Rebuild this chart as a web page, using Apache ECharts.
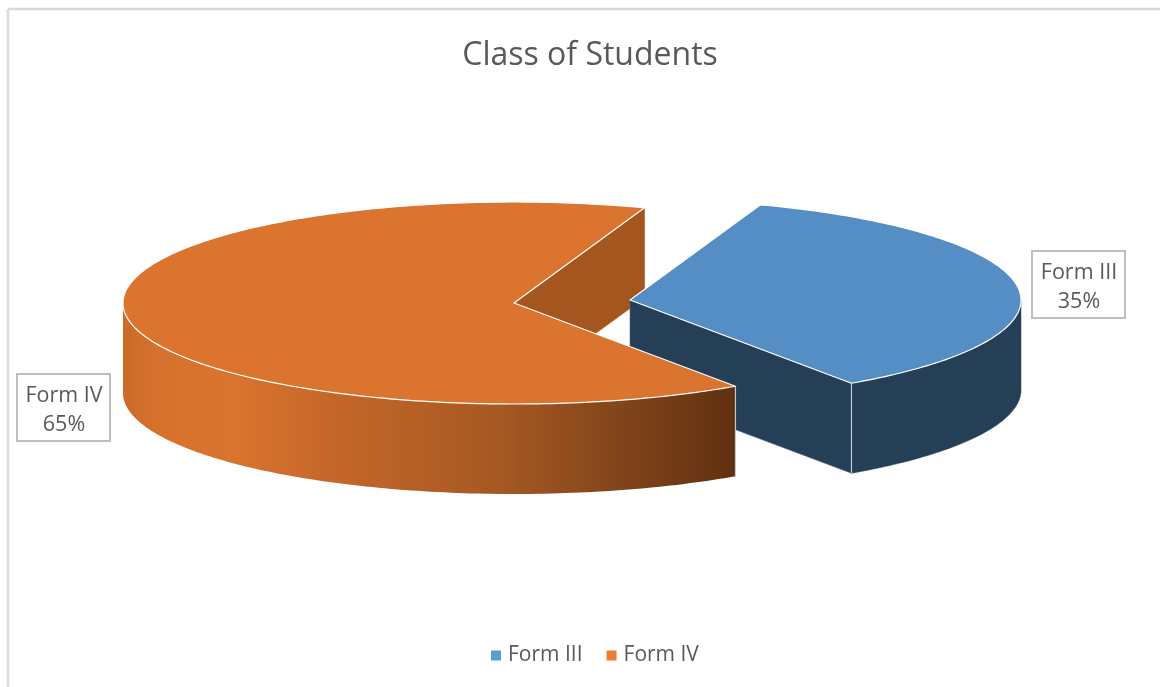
<!DOCTYPE html>
<html>
<head>
<meta charset="utf-8">
<style>
  html, body { margin: 0; padding: 0; background: #fff; }
  #chart { width: 1160px; height: 687px; }
</style>
<script src="https://cdn.jsdelivr.net/npm/echarts@6/dist/echarts.min.js"></script>
</head>
<body>
<div id="chart"></div>
<script>
// Chart content
const chartTitle = 'Class of Students';
const categories = ['Form III', 'Form IV'];
const shares = [35, 65];
const legendColors = ['#5B9BD5', '#ED7D31'];
const topColors = ['#548EC4', '#DA742E'];
const wallColors = ['#243F56', '#A5561F'];

// Drawing set-up for the tilted pie
const FONT = '"Open Sans", sans-serif';
const TEXT = '#595959';
const RX = 391, RY = 101, DEPTH = 90;
const FIRST_ANGLE = 19.5;
const centers = [[630, 300], [514, 303]];
const labelBoxes = [[1032, 251, 93, 67], [17, 374, 93, 67]];
const frontShade = {
  type: 'linear', x: 123, y: 0, x2: 738, y2: 0, global: true,
  colorStops: [
    { offset: 0, color: '#CB6A29' },
    { offset: 0.06, color: '#D6722D' },
    { offset: 0.18, color: '#DA742E' },
    { offset: 0.32, color: '#C7682A' },
    { offset: 0.62, color: '#A55822' },
    { offset: 0.82, color: '#7F431A' },
    { offset: 1, color: '#603010' }
  ]
};

const total = shares.reduce((a, b) => a + b, 0);

function sliceAngles(idx) {
  let start = FIRST_ANGLE;
  for (let i = 0; i < idx; i++) start += shares[i] / total * 360;
  return [start, start + shares[idx] / total * 360];
}

// Angles run clockwise from twelve o'clock on the tilted ellipse
function rim(c, deg, drop) {
  const a = deg * Math.PI / 180;
  return [c[0] + RX * Math.sin(a), c[1] - RY * Math.cos(a) + (drop || 0)];
}

function arc(c, from, to, drop) {
  const pts = [];
  const n = Math.max(2, Math.ceil(Math.abs(to - from)));
  for (let i = 0; i <= n; i++) pts.push(rim(c, from + (to - from) * i / n, drop));
  return pts;
}

function renderSlice(idx) {
  return function (params, api) {
    const value = api.value(0);
    const c = centers[idx];
    const [start, end] = sliceAngles(idx);
    const children = [];
    const edge = { stroke: '#ffffff', lineWidth: 1.2, lineJoin: 'round' };

    // Flat cut face, drawn behind everything on its side
    const cutFace = [c, rim(c, end), rim(c, end, DEPTH), [c[0], c[1] + DEPTH]];
    children.push({
      type: 'polygon', z2: idx === 0 ? 2 : 1,
      shape: { points: cutFace },
      style: { fill: wallColors[idx], stroke: idx === 0 ? '#4d6477' : '#A5561F', lineWidth: 0.6 }
    });

    // Curved outer wall: only the near half of the rim shows
    const wallFrom = Math.max(start, 90);
    const wallTo = Math.min(end, 270);
    const wall = arc(c, wallFrom, wallTo, 0).concat(arc(c, wallTo, wallFrom, DEPTH));
    children.push({
      type: 'polygon', z2: idx === 0 ? 3 : 5,
      shape: { points: wall },
      style: idx === 0
        ? { fill: wallColors[0], stroke: wallColors[0], lineWidth: 0.5 }
        : { fill: frontShade }
    });

    // Light seam down the wall at the slice's near corner
    children.push({
      type: 'polyline', z2: idx === 0 ? 4 : 6,
      shape: { points: [rim(c, idx === 0 ? end : start), rim(c, idx === 0 ? end : start, DEPTH)] },
      style: { stroke: '#c3cad0', lineWidth: 1.2, fill: 'none' }
    });

    // Top surface
    children.push({
      type: 'polygon', z2: idx === 0 ? 4 : 7,
      shape: { points: [c].concat(arc(c, start, end, 0)) },
      style: Object.assign({ fill: topColors[idx] }, edge)
    });

    // Value label in its outlined box
    const b = labelBoxes[idx];
    children.push({
      type: 'rect', z2: 10,
      shape: { x: b[0], y: b[1], width: b[2], height: b[3] },
      style: { fill: '#ffffff', stroke: '#BFBFBF', lineWidth: 2 }
    });
    children.push({
      type: 'text', z2: 11,
      x: b[0] + b[2] / 2 + 0.5, y: b[1] + b[3] / 2 + 3,
      style: {
        text: categories[idx] + '\n' + Math.round(value / total * 100) + '%',
        fill: TEXT, font: '21.5px ' + FONT, align: 'center', verticalAlign: 'middle',
        lineHeight: 29
      }
    });
    return { type: 'group', children: children };
  };
}

const chart = echarts.init(document.getElementById('chart'), null, { renderer: 'canvas' });
chart.setOption({
  animation: false,
  backgroundColor: '#ffffff',
  title: {
    text: chartTitle,
    left: 585, top: 35, textAlign: 'center',
    textStyle: { color: TEXT, fontFamily: FONT, fontSize: 32, fontWeight: 'normal' }
  },
  legend: {
    data: categories,
    left: 491, top: 645, padding: 0,
    icon: 'rect', itemWidth: 10, itemHeight: 10, itemGap: 24,
    textStyle: { color: TEXT, fontFamily: FONT, fontSize: 21, padding: [0, 0, 0, 2] }
  },
  graphic: [
    { type: 'line', silent: true, z: 0, shape: { x1: 8, y1: 9, x2: 1160, y2: 9 }, style: { stroke: '#D9D9D9', lineWidth: 2.5 } },
    { type: 'line', silent: true, z: 0, shape: { x1: 8, y1: 9, x2: 8, y2: 687 }, style: { stroke: '#D9D9D9', lineWidth: 2.5 } }
  ],
  series: categories.map((name, i) => ({
    type: 'custom',
    name: name,
    coordinateSystem: 'none',
    itemStyle: { color: legendColors[i] },
    data: [[shares[i]]],
    renderItem: renderSlice(i),
    silent: true
  }))
});
</script>
</body>
</html>
